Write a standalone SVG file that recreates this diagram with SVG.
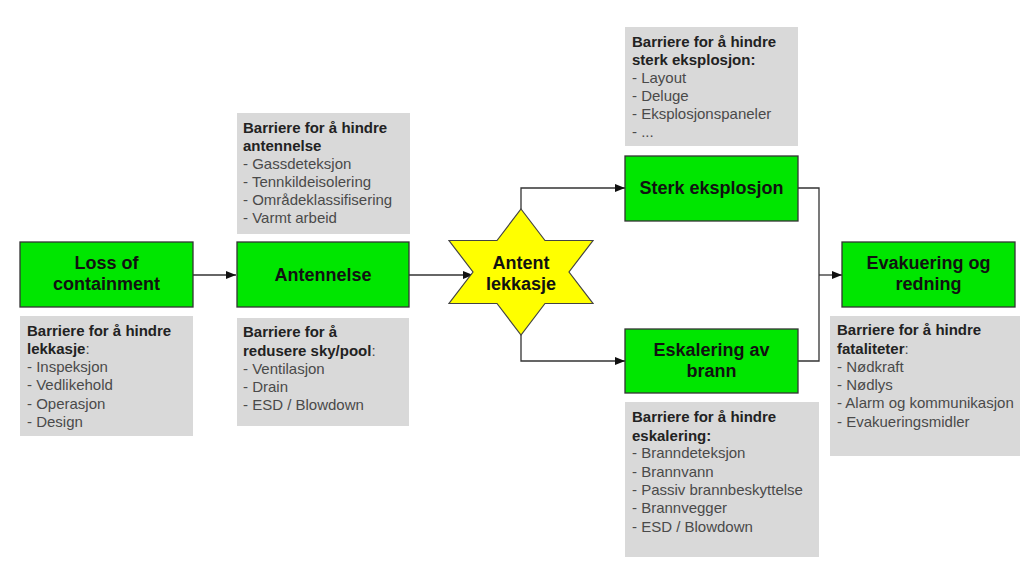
<svg xmlns="http://www.w3.org/2000/svg" width="1021" height="563" viewBox="0 0 1021 563">
<style>
.box{fill:#00e600;stroke:#333;stroke-width:1.3}
.gray{fill:#d9d9d9}
.lbl{font-family:"Liberation Sans",Arial,sans-serif;font-size:18px;font-weight:bold;fill:#111;text-anchor:middle}
.t{font-family:"Liberation Sans",Arial,sans-serif;font-size:15px;fill:#4a4a4a}
.h{font-weight:bold;fill:#222}
.c{fill:none;stroke:#333;stroke-width:1.3}
</style>
<defs>
<marker id="ah" markerWidth="10" markerHeight="8" refX="10" refY="4" orient="auto" markerUnits="userSpaceOnUse">
<path d="M0,0 L10,4 L0,8 Z" fill="#111"/>
</marker>
</defs>
<rect width="1021" height="563" fill="#fff"/>
<g id="connectors">
<path class="c" d="M193,275 H236" marker-end="url(#ah)"/>
<path class="c" d="M409,275 H473" marker-end="url(#ah)"/>
<path class="c" d="M521,209 V188 H625" marker-end="url(#ah)"/>
<path class="c" d="M521,335 V361 H625" marker-end="url(#ah)"/>
<path class="c" d="M798,188 H819 V361 H798"/>
<path class="c" d="M819,275 H842" marker-end="url(#ah)"/>
</g>
<g id="loss">
<rect class="box" x="20" y="242" width="173" height="65"/>
<text class="lbl" x="106.5" y="269">Loss of</text>
<text class="lbl" x="106.5" y="290">containment</text>
</g>
<g id="barrier-lekkasje">
<rect class="gray" x="20" y="316" width="173" height="120"/>
<text class="t" x="27"><tspan class="h" x="27" y="336">Barriere for å hindre</tspan><tspan class="h" x="27" y="354">lekkasje</tspan><tspan>:</tspan><tspan x="27" y="372">- Inspeksjon</tspan><tspan x="27" y="390">- Vedlikehold</tspan><tspan x="27" y="409">- Operasjon</tspan><tspan x="27" y="427">- Design</tspan></text>
</g>
<g id="antennelse">
<rect class="box" x="237" y="242" width="172" height="65"/>
<text class="lbl" x="323" y="281">Antennelse</text>
</g>
<g id="barrier-antennelse">
<rect class="gray" x="237" y="113" width="173" height="121"/>
<text class="t"><tspan class="h" x="243" y="133">Barriere for å hindre</tspan><tspan class="h" x="243" y="151">antennelse</tspan><tspan x="243" y="169">- Gassdeteksjon</tspan><tspan x="243" y="187">- Tennkildeisolering</tspan><tspan x="243" y="205">- Områdeklassifisering</tspan><tspan x="243" y="223">- Varmt arbeid</tspan></text>
</g>
<g id="barrier-sky">
<rect class="gray" x="237" y="318" width="172" height="108"/>
<text class="t"><tspan class="h" x="243" y="337">Barriere for å</tspan><tspan class="h" x="243" y="356">redusere sky/pool</tspan><tspan>:</tspan><tspan x="243" y="374">- Ventilasjon</tspan><tspan x="243" y="392">- Drain</tspan><tspan x="243" y="410">- ESD / Blowdown</tspan></text>
</g>
<g id="antent">
<path d="M521,209 L545,240.5 L593,240.5 L569,272 L593,303.5 L545,303.5 L521,335 L497,303.5 L449,303.5 L473,272 L449,240.5 L497,240.5 Z" fill="#ffff00" stroke="#444" stroke-width="1.2"/>
<text class="lbl" x="521" y="269">Antent</text>
<text class="lbl" x="521" y="290">lekkasje</text>
</g>
<g id="barrier-eksplosjon">
<rect class="gray" x="625" y="27" width="173" height="119"/>
<text class="t"><tspan class="h" x="632" y="47">Barriere for å hindre</tspan><tspan class="h" x="632" y="65">sterk eksplosjon:</tspan><tspan x="632" y="83">- Layout</tspan><tspan x="632" y="101">- Deluge</tspan><tspan x="632" y="119">- Eksplosjonspaneler</tspan><tspan x="632" y="137">- ...</tspan></text>
</g>
<g id="sterk">
<rect class="box" x="625" y="156" width="173" height="65"/>
<text class="lbl" x="711.5" y="194">Sterk eksplosjon</text>
</g>
<g id="eskalering">
<rect class="box" x="625" y="329" width="173" height="64"/>
<text class="lbl" x="711.5" y="356">Eskalering av</text>
<text class="lbl" x="711.5" y="377">brann</text>
</g>
<g id="barrier-eskalering">
<rect class="gray" x="625" y="402" width="194" height="155"/>
<text class="t"><tspan class="h" x="632" y="422">Barriere for å hindre</tspan><tspan class="h" x="632" y="441">eskalering:</tspan><tspan x="632" y="458">- Branndeteksjon</tspan><tspan x="632" y="477">- Brannvann</tspan><tspan x="632" y="495">- Passiv brannbeskyttelse</tspan><tspan x="632" y="513">- Brannvegger</tspan><tspan x="632" y="532">- ESD / Blowdown</tspan></text>
</g>
<g id="evakuering">
<rect class="box" x="842" y="242" width="173" height="65"/>
<text class="lbl" x="928.5" y="269">Evakuering og</text>
<text class="lbl" x="928.5" y="290">redning</text>
</g>
<g id="barrier-fataliteter">
<rect class="gray" x="830" y="316" width="190" height="140"/>
<text class="t"><tspan class="h" x="837" y="335">Barriere for å hindre</tspan><tspan class="h" x="837" y="354">fataliteter</tspan><tspan>:</tspan><tspan x="837" y="372">- Nødkraft</tspan><tspan x="837" y="390">- Nødlys</tspan><tspan x="837" y="408">- Alarm og kommunikasjon</tspan><tspan x="837" y="427">- Evakueringsmidler</tspan></text>
</g>
</svg>
